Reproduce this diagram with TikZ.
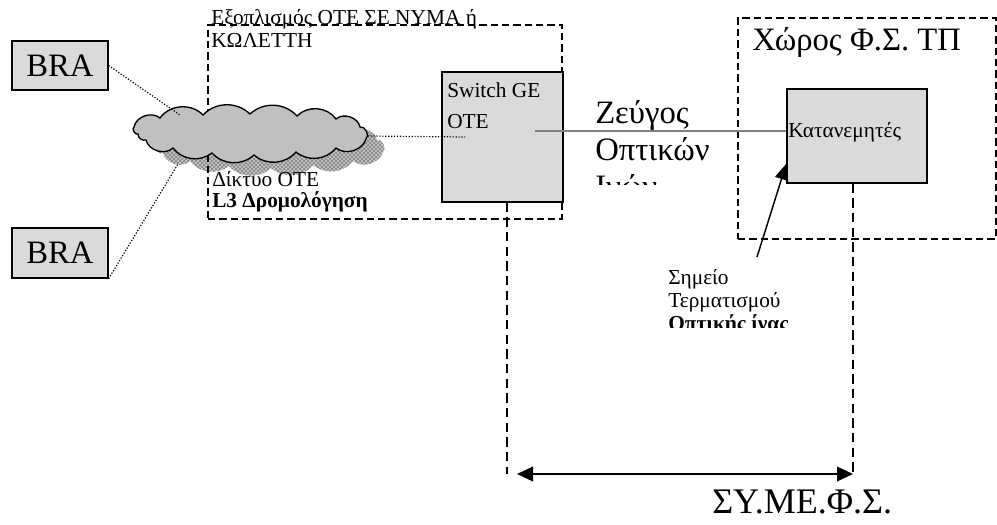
\documentclass[tikz,border=0pt]{standalone}
\usepackage{fontspec}
\setmainfont{Liberation Serif}
\usetikzlibrary{positioning,shapes.geometric,patterns,arrows.meta}
\definecolor{boxgray}{HTML}{DADADA}
\definecolor{cloudgray}{HTML}{C0C0C0}
\newcommand{\cloudpath}{(134,127) to[bend left=60] (160,118) to[bend left=50] (203,115)
    to[bend left=45] (250,114) to[bend left=45] (297,116) to[bend left=50] (336,119)
    to[bend left=60] (360,127) to[bend left=80] (366,139) to[bend left=55] (336,148)
    to[bend left=45] (296,152) to[bend left=45] (254,155) to[bend left=45] (212,153)
    to[bend left=45] (173,148) to[bend left=60] (146,140) to[bend left=55] (138,134)
    to[bend left=90] (134,127) -- cycle}

\begin{document}
\begin{tikzpicture}[x=0.75pt, y=-0.75pt]
\tikzset{
    every node/.style = {inner sep=0pt, align=left},
    graybox/.style = {draw, rectangle, fill=boxgray, line width=1pt},
    dashbox/.style = {draw, rectangle, line width=0.9pt, dash pattern=on 5.5pt off 3pt},
    bigtxt/.style = {font=\fontsize{24.5}{#1}\selectfont},
    bigtxt/.default = 28,
    smalltxt/.style = {font=\fontsize{16}{#1}\selectfont},
    smalltxt/.default = 17.25,
    dots/.style = {draw, line width=0.9pt, dash pattern=on 0.9pt off 1.3pt},
    dimline/.style = {draw, line width=0.8pt, dash pattern=on 7pt off 4pt},
    tip/.style = {-{Triangle[length=12pt, width=10pt]}, line width=1.1pt},
    fiber/.style = {draw, line width=1.1pt, gray}
}

% -------------------------------------------------------
\useasboundingbox (0,0) rectangle (997,525);

\node[graybox, bigtxt, minimum width=72pt, minimum height=36.75pt] (bra1) at (60,65.5) {BRA};
\node[graybox, bigtxt, minimum width=72pt, minimum height=37.5pt] (bra2) at (60,253) {BRA};

% cloud: shadow, then outline over the dashed box
\node[ellipse, minimum width=176pt, minimum height=31.5pt] (cloud) at (250,136) {};
\path[preaction={fill=gray!45}, pattern=crosshatch, pattern color=gray] [shift={(17,13)}] \cloudpath;
\node[dashbox, minimum width=265.5pt, minimum height=145.5pt] (ote) at (385,122) {};
\path[draw, line width=1pt, fill=cloudgray] \cloudpath;

\node[smalltxt, anchor=base west] (otetitle) at (211,47) {Εξοπλισμός ΟΤΕ ΣΕ ΝΥΜΑ ή\\ΚΩΛΕΤΤΗ};
\node[smalltxt=15.75, anchor=base west] (netlabel) at (212,207) {Δίκτυο ΟΤΕ\\\textbf{L3 Δρομολόγηση}};

\node[graybox, minimum width=90.75pt, minimum height=97.5pt] (switch) at (502.5,137) {};
\node[smalltxt=23.25, anchor=base west] (swtxt) at (447,128) {Switch GE\\OTE};

% -------------------------------------------------------
\node[dashbox, minimum width=193.5pt, minimum height=165.75pt] (fsroom) at (867,128.5) {};
\node[bigtxt, anchor=base west] (fstitle) at (752,50) {Χώρος Φ.Σ. ΤΠ};
\node[graybox, minimum width=105pt, minimum height=70.5pt] (katan) at (857,136) {};
\node[smalltxt, anchor=base west] (katantxt) at (788,137) {Κατανεμητές};

\begin{scope}
\clip (585,90) rectangle (720,184);
\node[bigtxt=27.75, anchor=base west] (pairtxt) at (595,197) {Ζεύγος\\Οπτικών\\Ινών};
\end{scope}

\begin{scope}
\clip (660,260) rectangle (800,327);
\node[smalltxt, anchor=base west] (termtxt) at (668,330) {Σημείο\\Τερματισμού\\\textbf{Οπτικής ίνας}};
\end{scope}

\node[font=\fontsize{27}{30}\selectfont, anchor=base west] (symefs) at (712,513) {ΣΥ.ΜΕ.Φ.Σ.};

% -------------------------------------------------------
\coordinate (cl1) at (180,115);
\coordinate (cl2) at (178,164);
\coordinate (swin) at (465,137);
\coordinate (fstart) at (535,131);
\coordinate (tptail) at (757,257);
\coordinate (dimL) at (507,474);
\coordinate (dimR) at (853,474);

\path[dots] (bra1.east) -- (cl1);
\path[dots] (bra2.south east) -- (cl2);
\path[dots] (cloud.east) -- (swin);

\path[fiber] (fstart) -- (fstart -| katan.west);
\draw[tip] (tptail) -- ([yshift=15pt]katan.south west);

\path[dimline] (dimL |- switch.south) -- (dimL);
\path[dimline] (dimR |- katan.south) -- (dimR);
\draw[{Triangle[length=12pt, width=11pt]}-{Triangle[length=12pt, width=11pt]}, line width=1.1pt] ([xshift=7.5pt]dimL) -- (dimR);
\end{tikzpicture}
\end{document}
